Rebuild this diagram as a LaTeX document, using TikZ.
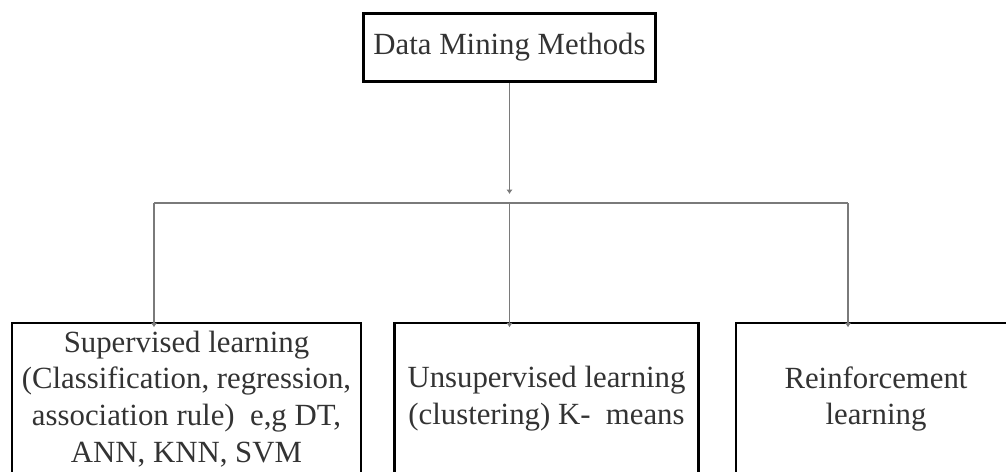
\documentclass[tikz,border=0pt]{standalone}
\usepackage{fontspec}
\setmainfont{Liberation Serif}
\usetikzlibrary{arrows.meta,positioning}
\definecolor{ink}{HTML}{333333}
\definecolor{wire}{HTML}{7A7A7A}

\begin{document}
\begin{tikzpicture}[x=0.5pt,y=-0.5pt,>={Latex[length=2.2pt,width=3.2pt]},
font=\fontsize{15.4}{18.4}\selectfont,
box/.style={draw=black,line width=1.3pt,align=center,text=ink,inner sep=0pt},
link/.style={draw=wire,line width=0.9pt}]
\useasboundingbox (0,0) rectangle (1006,471);
\node[box,minimum width=146.2pt,minimum height=34.2pt] (dmm) at (509.5,47.5) {Data Mining Methods};
\node[box,minimum width=174.5pt,minimum height=76pt] (sup) at (186.5,399) {Supervised learning\\(Classification, regression,\\association rule)\ \ e,g DT,\\ANN, KNN, SVM};
\node[box,minimum width=152.2pt,minimum height=76pt] (uns) at (546.5,399) {Unsupervised learning\\(clustering) K-\ \ means};
\node[box,minimum width=140pt,minimum height=76pt] (rein) at (876,399) {Reinforcement\\learning};
\coordinate (fork) at (509.5,203);
\coordinate (lft) at (154,203);
\coordinate (rgt) at (848,203);
\draw[link,->] (dmm) -- ([yshift=4.5pt]fork);
\draw[link] (lft) -- (rgt);
\draw[link,->] (lft) -- ([yshift=-2.8pt]lft |- sup.north);
\draw[link,->] (fork) -- ([yshift=-2.8pt]fork |- uns.north);
\draw[link,->] (rgt) -- ([yshift=-2.8pt]rgt |- rein.north);
\end{tikzpicture}
\end{document}
